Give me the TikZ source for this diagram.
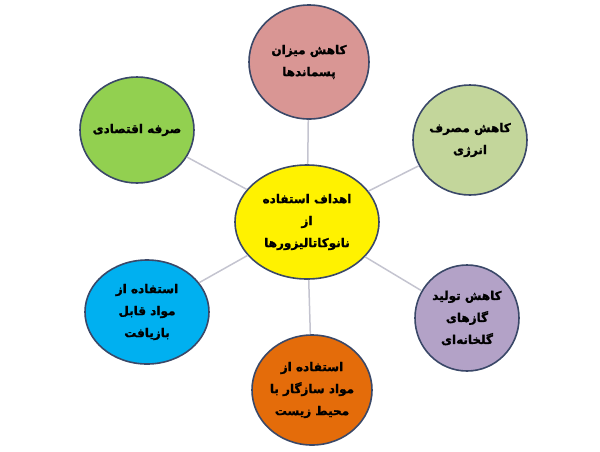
\documentclass[tikz,border=0pt]{standalone}
\usepackage{fontspec}
\usetikzlibrary{shapes.geometric}
\TeXXeTstate=1
\newfontfamily\farsi[Script=Arabic,FakeBold=1.5]{DejaVu Sans}
\newcommand{\fa}[1]{\beginR #1\endR}
\definecolor{rim}{RGB}{58,72,104}
\definecolor{spoke}{RGB}{196,196,208}
\definecolor{pinkgoal}{RGB}{217,150,148}
\definecolor{palegoal}{RGB}{195,214,155}
\definecolor{greengoal}{RGB}{146,208,80}
\definecolor{bluegoal}{RGB}{0,176,240}
\definecolor{purplegoal}{RGB}{179,162,199}
\definecolor{orangegoal}{RGB}{228,108,10}
\tikzset{
  goal/.style={ellipse,draw=rim,line width=1.6pt,inner xsep=-12pt,inner ysep=0pt,align=center,
    font=\farsi\bfseries\fontsize{12}{22}\selectfont},
  spokeline/.style={draw=spoke,line width=1.5pt}
}
\begin{document}
\begin{tikzpicture}[x=1pt,y=-1pt]
                \useasboundingbox(0,0)rectangle(600,451);
                \node[goal,fill=yellow,minimum width=144,minimum height=114](0)at(307,222){\fa{اهداف استفاده}\\\fa{از}\\\fa{نانوکاتالیزورها}};
                \node[goal,fill=pinkgoal,minimum width=120,minimum height=114](1)at(309,62){\fa{کاهش میزان}\\\fa{پسماندها}};
                \node[goal,fill=palegoal,minimum width=114,minimum height=110](2)at(470,140){\fa{کاهش مصرف}\\\fa{انرژی}};
                \node[goal,fill=purplegoal,minimum width=104,minimum height=106](3)at(467,318){\fa{کاهش تولید}\\\fa{گازهای}\\\fa{گلخانه‌ای}};
                \node[goal,fill=orangegoal,minimum width=120,minimum height=110](4)at(312,390){\fa{استفاده از}\\\fa{مواد سازگار با}\\\fa{محیط زیست}};
                \node[goal,fill=bluegoal,minimum width=124,minimum height=104](5)at(147,312){\fa{استفاده از}\\\fa{مواد قابل}\\\fa{بازیافت}};
                \node[goal,fill=greengoal,minimum width=114,minimum height=106](6)at(137,130){\fa{صرفه اقتصادی}};
                \draw[spokeline](0)--(1);
                \draw[spokeline](0)--(2);
                \draw[spokeline](0)--(3);
                \draw[spokeline](0)--(4);
                \draw[spokeline](0)--(5);
                \draw[spokeline](0)--(6);
            \end{tikzpicture}
\end{document}
